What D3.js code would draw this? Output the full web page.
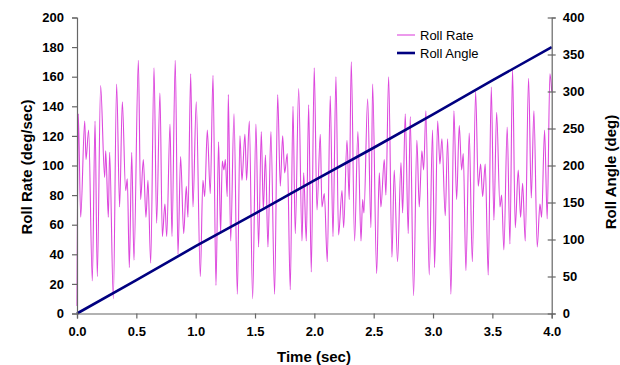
<!DOCTYPE html>
<html>
<head>
<meta charset="utf-8">
<script src="https://cdn.jsdelivr.net/npm/d3@7"></script>
<style>
  body { margin: 0; background: #fff; }
  svg text { font-family: "Liberation Sans", Arial, sans-serif; }
</style>
</head>
<body>
<div id="chart"></div>
<script>
let width = 620, height = 365;

// roll rate (time in sec, value in deg/sec)
let rateTime = [
    0, 0.011, 0.031, 0.065, 0.076, 0.098, 0.129, 0.152, 0.171, 0.199, 0.233, 0.242, 0.264, 0.275, 0.306, 0.334, 0.359, 0.382,
    0.410, 0.424, 0.441, 0.461, 0.480, 0.517, 0.536, 0.559, 0.581, 0.598, 0.621, 0.649, 0.671, 0.699, 0.719, 0.741, 0.756, 0.784,
    0.800, 0.828, 0.851, 0.873, 0.899, 0.921, 0.935, 0.958, 0.977, 1.005, 1.039, 1.061, 1.076, 1.098, 1.123, 1.146, 1.171, 1.193,
    1.210, 1.224, 1.238, 1.250, 1.266, 1.275, 1.295, 1.323, 1.351, 1.373, 1.390, 1.415, 1.429, 1.452, 1.480, 1.508, 1.530, 1.553,
    1.570, 1.588, 1.609, 1.634, 1.665, 1.691, 1.713, 1.733, 1.750, 1.772, 1.797, 1.820, 1.839, 1.868, 1.896, 1.910, 1.932, 1.952,
    1.974, 1.999, 2.022, 2.050, 2.064, 2.084, 2.109, 2.134, 2.157, 2.182, 2.204, 2.233, 2.247, 2.275, 2.294, 2.311, 2.339, 2.367,
    2.393, 2.407, 2.418, 2.449, 2.477, 2.491, 2.525, 2.547, 2.561, 2.589, 2.603, 2.626, 2.654, 2.673, 2.701, 2.730, 2.744, 2.766,
    2.791, 2.808, 2.836, 2.864, 2.884, 2.906, 2.921, 2.940, 2.968, 2.996, 3.013, 3.039, 3.058, 3.075, 3.103, 3.123, 3.151,
    3.176, 3.199, 3.221, 3.241, 3.255, 3.277, 3.305, 3.331, 3.359, 3.381, 3.401, 3.418, 3.440, 3.465, 3.491, 3.513, 3.536, 3.564,
    3.578, 3.597, 3.625, 3.648, 3.670, 3.693, 3.718, 3.738, 3.755, 3.777, 3.805, 3.828, 3.850, 3.878, 3.901, 3.915, 3.940, 3.962,
    3.985, 4.0
];
let rateValue = [
    5, 135, 65, 130, 104, 124, 22, 130, 25, 154, 92, 110, 65, 109, 10, 155, 72, 143,
    83, 91, 31, 109, 36, 171, 77, 104, 65, 90, 34, 166, 61, 149, 52, 74, 52, 128,
    52, 171, 40, 106, 54, 86, 65, 162, 72, 143, 25, 90, 79, 124, 81, 161, 19, 116,
    54, 103, 97, 104, 79, 148, 49, 135, 13, 120, 90, 121, 90, 130, 10, 128, 45, 123,
    70, 107, 45, 123, 13, 148, 86, 120, 95, 108, 16, 140, 54, 152, 49, 95, 49, 141,
    28, 166, 70, 121, 72, 81, 35, 147, 52, 160, 53, 83, 58, 117, 77, 170, 49, 123,
    49, 77, 68, 145, 58, 155, 27, 95, 72, 104, 80, 160, 38, 97, 35, 102, 68, 135,
    54, 133, 12, 117, 72, 110, 97, 137, 26, 124, 31, 130, 101, 118, 66, 118, 13,
    137, 77, 127, 97, 108, 29, 122, 35, 150, 86, 101, 79, 101, 26, 153, 63, 136, 72,
    80, 43, 126, 47, 165, 58, 97, 65, 88, 49, 159, 78, 137, 45, 74, 65, 124, 64,
    162, 150
];

// roll angle (deg)
let angleTime = [0, 0.5, 1.0, 1.5, 2.0, 2.5, 3.0, 3.5, 4.0];
let angleValue = [0, 45, 91, 135, 180, 224, 269, 315, 360];

let leftTicks = [0, 20, 40, 60, 80, 100, 120, 140, 160, 180, 200];
let rightTicks = [0, 50, 100, 150, 200, 250, 300, 350, 400];
let timeTicks = [0, 0.5, 1.0, 1.5, 2.0, 2.5, 3.0, 3.5, 4.0];

let svg = d3.select('#chart')
    .append('svg')
    .attr('width', width)
    .attr('height', height);

let x = d3.scaleLinear().domain([0, 4]).range([77, 551.7]);
let yL = d3.scaleLinear().domain([0, 200]).range([313.5, 17.5]);
let yR = d3.scaleLinear().domain([0, 400]).range([313.5, 17.5]);

let axisColor = '#666';
let rateColor = '#dd48dd';

// roll rate line
let rateLine = d3.line()
    .x((d, i) => x(rateTime[i]))
    .y((d) => yL(d))
    .curve(d3.curveMonotoneX);
svg.append('path')
    .datum(rateValue)
    .attr('d', rateLine)
    .attr('fill', 'none')
    .attr('stroke', rateColor)
    .attr('stroke-width', 1.1);

// roll angle line
let angleLine = d3.line()
    .x((d, i) => x(angleTime[i]))
    .y((d) => yR(d));
svg.append('path')
    .datum(angleValue)
    .attr('d', angleLine)
    .attr('fill', 'none')
    .attr('stroke', '#000080')
    .attr('stroke-width', 2.6);

// axes
let leftAxis = svg.append('g')
    .attr('transform', 'translate(77,0)')
    .call(d3.axisLeft(yL).tickValues(leftTicks).tickSize(5).tickPadding(8).tickFormat(d3.format('d')));

let rightAxis = svg.append('g')
    .attr('transform', 'translate(551.7,0)')
    .call(d3.axisRight(yR).tickValues(rightTicks).tickSize(4).tickPadding(7).tickFormat(d3.format('d')));
rightAxis.selectAll('.tick line').attr('x1', -4).attr('x2', 4);

let bottomAxis = svg.append('g')
    .attr('transform', 'translate(0,313.5)')
    .call(d3.axisBottom(x).tickValues(timeTicks).tickSize(5).tickPadding(8).tickFormat(d3.format('.1f')));

[leftAxis, rightAxis, bottomAxis].forEach((g) => {
    g.select('.domain').attr('stroke', axisColor).attr('stroke-width', 1.2);
    g.selectAll('.tick line').attr('stroke', axisColor).attr('stroke-width', 1.2);
    g.selectAll('.tick text')
        .attr('fill', '#000')
        .style('font-family', '"Liberation Sans", Arial, sans-serif')
        .style('font-size', '13px')
        .style('font-weight', 'bold');
});

// axis titles
svg.append('text')
    .attr('transform', 'translate(32,167) rotate(-90)')
    .attr('text-anchor', 'middle')
    .style('font-size', '15px')
    .style('font-weight', 'bold')
    .text('Roll Rate (deg/sec)');

svg.append('text')
    .attr('transform', 'translate(616,172) rotate(-90)')
    .attr('text-anchor', 'middle')
    .style('font-size', '15px')
    .style('font-weight', 'bold')
    .text('Roll Angle (deg)');

svg.append('text')
    .attr('x', 314)
    .attr('y', 362)
    .attr('text-anchor', 'middle')
    .style('font-size', '15px')
    .style('font-weight', 'bold')
    .text('Time (sec)');

// legend
let legend = svg.append('g');
legend.append('line')
    .attr('x1', 397).attr('x2', 415)
    .attr('y1', 35).attr('y2', 35)
    .attr('stroke', rateColor)
    .attr('stroke-width', 1.1);
legend.append('text')
    .attr('x', 420).attr('y', 35)
    .attr('dy', '0.35em')
    .style('font-size', '13px')
    .text('Roll Rate');
legend.append('line')
    .attr('x1', 397).attr('x2', 415)
    .attr('y1', 53).attr('y2', 53)
    .attr('stroke', '#000080')
    .attr('stroke-width', 2.6);
legend.append('text')
    .attr('x', 420).attr('y', 53)
    .attr('dy', '0.35em')
    .style('font-size', '13px')
    .text('Roll Angle');
</script>
</body>
</html>
